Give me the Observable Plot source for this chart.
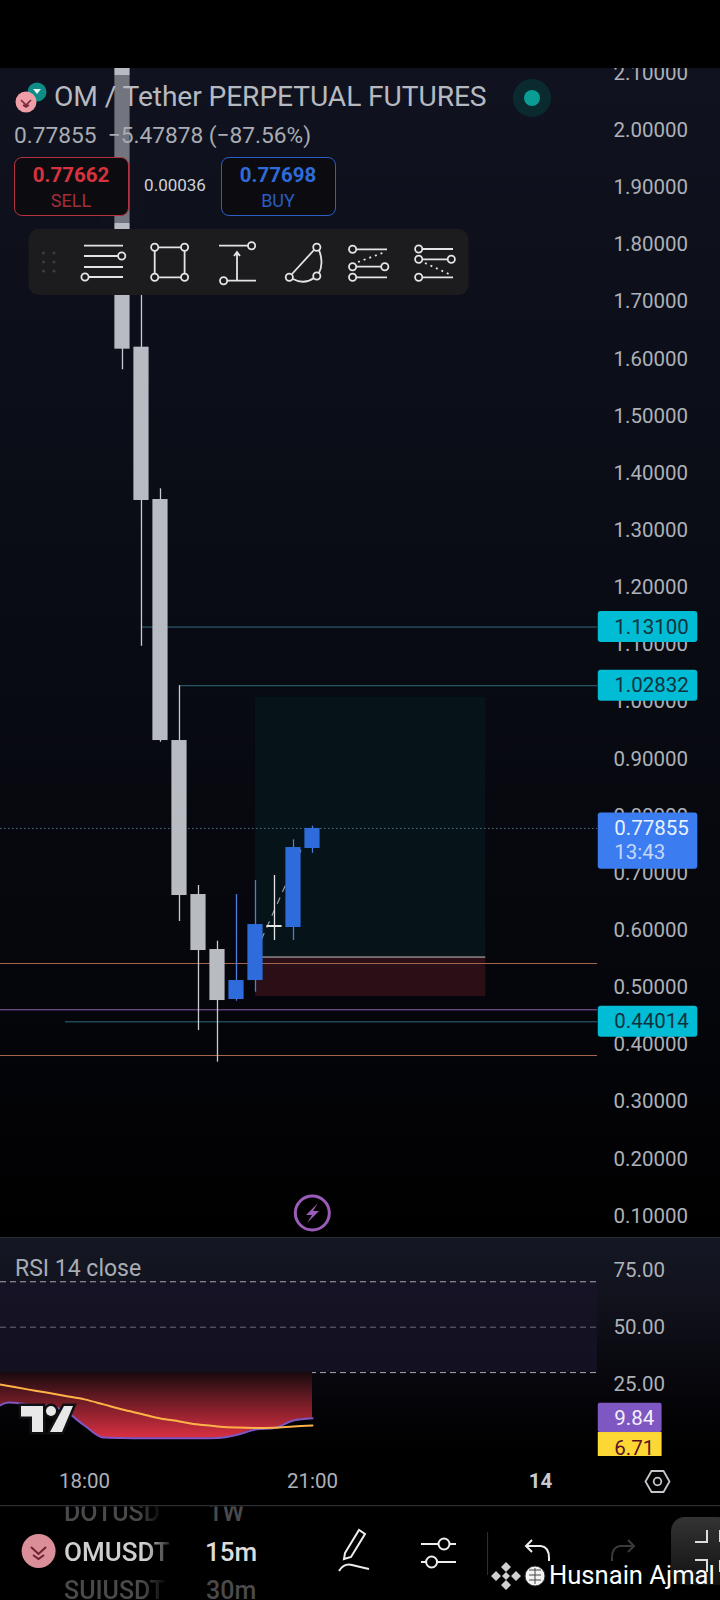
<!DOCTYPE html>
<html>
<head>
<meta charset="utf-8">
<script src="https://cdn.jsdelivr.net/npm/d3@7"></script>
<script src="https://cdn.jsdelivr.net/npm/@observablehq/plot@0.6"></script>
<style>
html,body{margin:0;padding:0;background:#000;}
#root{position:relative;width:720px;height:1600px;overflow:hidden;background:#000;font-family:Roboto,sans-serif;}
.abs{position:absolute;}
.t{position:absolute;white-space:nowrap;transform:translateY(-50%);line-height:1;}
.c{transform:translate(-50%,-50%);}
#pricePane{left:0;top:68px;width:720px;height:1169px;background:linear-gradient(#10131f 0%,#0c0f19 25%,#090b13 50%,#05060b 80%,#000 100%);}
#rsiPane{left:0;top:1237px;width:720px;height:269px;background:linear-gradient(#141824 0,#11121c 60px,#07070d 140px,#000 215px);border-top:1px solid #2a2d35;box-sizing:border-box;}
svg{display:block;}
.fade{-webkit-mask-image:linear-gradient(90deg,#000 78%,rgba(0,0,0,.15) 100%);mask-image:linear-gradient(90deg,#000 78%,rgba(0,0,0,.15) 100%);}
</style>
</head>
<body>
<div id="root">
  <div id="pricePane" class="abs"></div>
  <div id="rsiPane" class="abs"></div>
</div>
<script>
// ---- data ----
const candleHours = [18.5,18.75,19,19.25,19.5,19.75,20,20.25,20.5,20.75,21];
const opens  = [2.25,1.6208,1.3542,0.9324,0.6629,0.5667,0.4792,0.5124,0.6087,0.6052,0.7435];
const closes = [1.6173,1.3525,0.9324,0.6612,0.5649,0.4774,0.5124,0.6104,0.6052,0.7452,0.77855];
const highs  = [2.3,1.8075,1.3729,1.02832,0.6787,0.5812,0.663,0.6874,0.6962,0.7587,0.7825];
const lows   = [1.5812,1.0975,0.9295,0.6157,0.4249,0.3695,0.4762,0.492,0.5824,0.5824,0.735];
const priceTicks = [0.1,0.2,0.3,0.4,0.5,0.6,0.7,0.8,0.9,1.0,1.1,1.2,1.3,1.4,1.5,1.6,1.7,1.8,1.9,2.0,2.1];
const alertPrices = [1.131,1.02832,0.44014];
const alertStarts = [18.75,19.25,17.75];
const lastPrice = 0.77855;
const countdown = "13:43";
const orangeLevels = [0.5422,0.3812];
const purpleLevel = 0.4612;
const positionEntry = 0.5535, positionTarget = 1.0082, positionStop = 0.4843;
const positionStart = 20.25, positionEnd = 23.28;
const trendHours = [20.33,20.88];
const trendPrices = [0.585,0.75];
const rsiHours = [16.75,17,17.25,17.5,17.75,18,18.25,18.5,18.75,19,19.25,19.5,19.75,20,20.25,20.5,20.75,21];
const rsiValues = [12.0,16.8,16.0,15.5,12.9,6.7,1.4,1.2,1.1,1.1,1.1,1.1,1.2,2.5,4.9,5.6,8.9,9.84];
const rsiMA = [25.6,24.1,22.6,21.2,19.7,18.2,16.0,13.7,11.8,9.8,8.5,7.1,6.3,5.8,5.6,5.7,6.3,6.71];
const rsiTicks = [25,50,75];
const rsiLevels = [70,30];
const rsiMid = 50;
const timeTicks = [18,21];
const timeLabels = ["18:00","21:00"];
const dayTick = 24, dayLabel = "14";

// ---- shared scale ----
const xDomain = [16.895,24.75];
const paneW = 597, W = 720;
const axisColor = "#aeb1b8";
const upColor = "#2e6cdc", downColor = "#b9bbc3";
const candles = candleHours.map((h,i)=>({h,open:opens[i],close:closes[i],high:highs[i],low:lows[i]}));
const hw = 0.1;
const labelL = 24.76, labelR = 26.07;
const pad = 0.0271;

const price = Plot.plot({
  width:W,height:1169,marginTop:0,marginBottom:0,marginLeft:0,marginRight:W-paneW,
  style:{background:"transparent",fontFamily:"Roboto"},
  x:{domain:xDomain,range:[0,paneW],axis:null},
  y:{domain:[0.0627,2.1085],range:[1169,0]},
  color:{type:"identity"},
  marks:[
    Plot.axisY(priceTicks,{anchor:"right",tickSize:0,tickPadding:16,tickFormat:d3.format(".5f"),fontSize:20.5,color:axisColor,label:null}),
    Plot.rect([0],{x1:positionStart,x2:positionEnd,y1:positionEntry,y2:positionTarget,fill:"#061318"}),
    Plot.rect([0],{x1:positionStart,x2:positionEnd,y1:positionStop,y2:positionEntry,fill:"#2b0f17"}),
    Plot.ruleY([positionEntry],{x1:positionStart,x2:positionEnd,stroke:"#c4c4c4",strokeWidth:1}),
    Plot.ruleY(orangeLevels,{x1:xDomain[0],x2:xDomain[1],stroke:"#a4654c",strokeWidth:1}),
    Plot.ruleY([purpleLevel],{x1:xDomain[0],x2:xDomain[1],stroke:"#8a62ab",strokeWidth:1}),
    Plot.ruleY(alertPrices,{x1:(d,i)=>alertStarts[i],x2:xDomain[1],stroke:"#2f6b7c",strokeWidth:1}),
    Plot.ruleY([lastPrice],{x1:xDomain[0],x2:xDomain[1],stroke:"#55707f",strokeWidth:1,strokeDasharray:"1.5,2.5"}),
    Plot.line(trendHours.map((h,i)=>({h,p:trendPrices[i]})),{x:"h",y:"p",stroke:"#9a9da6",strokeWidth:1.2,strokeDasharray:"6,7"}),
    Plot.ruleX(candles,{x:"h",y1:"low",y2:"high",strokeWidth:1.3,stroke:d=>d.close>d.open?"#4a7ddc":(d.h===20.5?"#e6e6e6":"#c9cbd1")}),
    Plot.rect(candles,{x1:d=>d.h-hw,x2:d=>d.h+hw,y1:"open",y2:"close",fill:d=>d.close>d.open?upColor:(d.h===20.5?"#e6e6e6":downColor)}),
    Plot.rect(alertPrices,{x1:labelL,x2:labelR,y1:d=>d-pad,y2:d=>d+pad,fill:"#00bcd4",rx:3}),
    Plot.text(alertPrices,{x:labelL,y:d=>d,dx:16,textAnchor:"start",text:d=>d3.format(".5f")(d),fontSize:20.5,fill:"#10323c"}),
    Plot.rect([lastPrice],{x1:labelL,x2:labelR,y1:d=>d-0.0715,y2:d=>d+pad,fill:"#3b7cf0",rx:3}),
    Plot.text([lastPrice],{x:labelL,y:d=>d,dx:16,textAnchor:"start",text:d=>d3.format(".5f")(d),fontSize:20.5,fill:"#e8f1ff"}),
    Plot.text([countdown],{x:labelL,y:lastPrice,dx:16,dy:24,textAnchor:"start",text:d=>d,fontSize:20.5,fill:"#c4d7fb"})
  ]
});
price.style.position="absolute";price.style.left="0";price.style.top="68px";
document.getElementById("root").appendChild(price);

const rsiData = rsiHours.map((h,i)=>({h,rsi:rsiValues[i],ma:rsiMA[i]}));
const gradientDefs = () => {
  const d = d3.create("svg:defs");
  const g = d.append("linearGradient").attr("id","rsiFill").attr("x1",0).attr("x2",0).attr("y1",0).attr("y2",1);
  g.append("stop").attr("offset","0%").attr("stop-color","#180a0e");
  g.append("stop").attr("offset","45%").attr("stop-color","#701c26");
  g.append("stop").attr("offset","100%").attr("stop-color","#d92f41");
  return d.node();
};
const rsi = Plot.plot({
  width:W,height:269,marginTop:0,marginBottom:50,marginLeft:0,marginRight:W-paneW,
  style:{background:"transparent",fontFamily:"Roboto"},
  x:{domain:xDomain,range:[0,paneW],axis:null},
  y:{domain:[-6.96,89.5],range:[219,0]},
  marks:[
    gradientDefs,
    Plot.rect([0],{x1:xDomain[0],x2:xDomain[1],y1:rsiLevels[1],y2:rsiLevels[0],fill:"#181428",fillOpacity:0.72}),
    Plot.axisY(rsiTicks,{anchor:"right",tickSize:0,tickPadding:16,tickFormat:d3.format(".2f"),fontSize:20.5,color:axisColor,label:null}),
    Plot.ruleY(rsiLevels,{x1:xDomain[0],x2:xDomain[1],stroke:"#a8a8ae",strokeWidth:1,strokeDasharray:"6,4"}),
    Plot.ruleY([rsiMid],{x1:xDomain[0],x2:xDomain[1],stroke:"#6d6d74",strokeWidth:1,strokeDasharray:"6,4"}),
    Plot.areaY(rsiData,{x:"h",y1:rsiLevels[1],y2:"rsi",fill:"url(#rsiFill)",curve:"monotone-x"}),
    Plot.line(rsiData,{x:"h",y:"rsi",stroke:"#7e57c2",strokeWidth:2,curve:"monotone-x"}),
    Plot.line(rsiData,{x:"h",y:"ma",stroke:"#ffb347",strokeWidth:2,curve:"monotone-x"}),
    Plot.rect([0],{x1:labelL,x2:25.6,y1:3.6,y2:16.5,fill:"#7e57c2",rx:2}),
    Plot.rect([0],{x1:labelL,x2:25.6,y1:-6.96,y2:3.6,fill:"#fdd835"}),
    Plot.text([rsiValues[rsiValues.length-1]],{x:labelL,y:d=>d,dx:16,textAnchor:"start",text:d=>d3.format(".2f")(d),fontSize:20.5,fill:"#f4f0fa"}),
    Plot.text([rsiMA[rsiMA.length-1]],{x:labelL,y:d=>d,dx:16,dy:23,textAnchor:"start",text:d=>d3.format(".2f")(d),fontSize:20.5,fill:"#5a1020"}),
    Plot.text(timeTicks,{x:d=>d,y:-6.96,dy:25,text:(d,i)=>timeLabels[i],fontSize:20.5,fill:axisColor}),
    Plot.text([dayTick],{x:d=>d,y:-6.96,dy:25,text:()=>dayLabel,fontSize:20.5,fill:"#c8cad0",fontWeight:700})
  ]
});
rsi.style.position="absolute";rsi.style.left="0";rsi.style.top="1237px";
document.getElementById("root").appendChild(rsi);

// ---- app chrome overlay ----
const root = document.getElementById("root");
const chrome = document.createElement("div");
chrome.innerHTML = `
<div class="abs" style="left:100px;top:75px;width:45px;height:148px;background:rgba(16,19,31,.42)"></div>
<svg class="abs" style="left:0;top:0" width="720" height="1600" fill="none">
  <circle cx="37" cy="92" r="9.5" fill="#0e8c86"/><path d="M33 89h8l-4 5z" fill="#e6f4f2"/>
  <circle cx="26" cy="102" r="10.5" fill="#ee9ea7"/><path d="M21 100l5 5 5-5M23 105l3 2 3-2" stroke="#7a2a3a" stroke-width="1.6"/>
  <circle cx="532" cy="98" r="19" fill="#0b2a30"/><circle cx="532" cy="98" r="8" fill="#0a9d93"/>
  <rect x="28.5" y="229" width="440" height="66" rx="10" fill="#1c1c1e"/>
  <g fill="#3c3c40"><circle cx="43.5" cy="253" r="1.6"/><circle cx="54" cy="253" r="1.6"/><circle cx="43.5" cy="262" r="1.6"/><circle cx="54" cy="262" r="1.6"/><circle cx="43.5" cy="271" r="1.6"/><circle cx="54" cy="271" r="1.6"/></g>
  <g stroke="#e4e4e6" stroke-width="1.8" fill="none">
    <path d="M84 245.7h39M84 256h34M84 267h39M89 277h34"/><circle cx="121.7" cy="256" r="3.6"/><circle cx="85" cy="277" r="3.6"/>
    <path d="M158 247.3h23M158 277.3h23M154.7 251v23M184.6 251v23"/><circle cx="154.7" cy="247.3" r="3.6"/><circle cx="184.6" cy="247.3" r="3.6"/><circle cx="154.7" cy="277.3" r="3.6"/><circle cx="184.6" cy="277.3" r="3.6"/>
    <path d="M219 245.7h29M227 280.7h29M237 252v28M234 256l3-4 3 4"/><circle cx="251.6" cy="245.7" r="3.6"/><circle cx="223.6" cy="280.7" r="3.6"/>
    <path d="M292 274l22-24M319 250q5 13 0 23M293 279q11 6 21-1"/><circle cx="316.8" cy="247.3" r="3.6"/><circle cx="289.3" cy="277.3" r="3.6"/><circle cx="316.8" cy="276" r="3.6"/>
    <path d="M356 249.3h31M356 266.7h25M356 277.3h31"/><circle cx="352.6" cy="249.3" r="3.6"/><circle cx="352.6" cy="266.7" r="3.6"/><circle cx="352.6" cy="277.3" r="3.6"/><circle cx="384.8" cy="266.7" r="3.6"/>
    <path d="M358 262l27-10" stroke-dasharray="2,4"/>
    <path d="M422 249h31M422 259.3h26M422 277.3h31"/><circle cx="418.7" cy="249" r="3.6"/><circle cx="418.7" cy="259.3" r="3.6"/><circle cx="451.3" cy="259.3" r="3.6"/><circle cx="418.7" cy="277.3" r="3.6"/>
    <path d="M425 263l26 12" stroke-dasharray="2,4"/>
  </g>
  <circle cx="312.3" cy="1213" r="17" fill="#000" stroke="#9a5cb8" stroke-width="3"/>
  <path d="M318 1203l-12 12h6l-5 8 12-12h-6z" fill="#9a5cb8"/>
  <g fill="#e8e8e8" stroke="#101012" stroke-width="5" paint-order="stroke">
    <path d="M21 1406h22v26h-11v-15.5h-11z"/><circle cx="51" cy="1411" r="5"/><path d="M64 1406h9l-11 26h-12z"/>
  </g>
  <path d="M645.5 1481.5l6-10.5h12l6 10.5-6 10.500h-12z" stroke="#c4c6cc" stroke-width="1.8"/>
  <circle cx="657.5" cy="1481.5" r="3.8" stroke="#c4c6cc" stroke-width="1.8"/>
  <line x1="0" x2="720" y1="1505.6" y2="1505.6" stroke="#2a2c30" stroke-width="1.2"/>
  <ellipse cx="38.6" cy="1551" rx="17" ry="17" fill="#d98e98"/><path d="M31 1547l7.5 7 7.5-7M33 1555l5.500 4 5.500-4" stroke="#6d2231" stroke-width="2"/>
  <g stroke="#ededed" stroke-width="2" fill="none">
    <path d="M345 1553l14-23 6 4-14 23-7 2zM339 1571q5-8 13-6t17 4"/>
    <path d="M421 1544h17M450 1544h6M421 1562h5M437 1562h19"/><circle cx="444" cy="1544" r="5.500"/><circle cx="431.600" cy="1562" r="5.500"/>
    <path d="M532 1552l-6-6 6-6M526 1546h15q8 1 8 12v3"/>
  </g>
  <line x1="487.600" x2="487.600" y1="1532" y2="1575" stroke="#333"/>
  <path d="M628 1552l6-6-6-6M634 1546h-14q-8 1-8 12v3" stroke="#3a3a3a" stroke-width="2"/>
  <defs><linearGradient id="side" x1="0" x2="0" y1="0" y2="1"><stop offset="0" stop-color="#333"/><stop offset="1" stop-color="#111"/></linearGradient></defs>
  <rect x="671" y="1517" width="60" height="68" rx="14" fill="url(#side)"/>
  <path d="M707 1530v12h-12M720 1530v12M695 1560h12v12M720 1560v12" stroke="#ddd" stroke-width="2"/>
  <g fill="#cfcfcf"><path d="M506 1562l5 5-5 5-5-5zM496 1571l5 5-5 5-5-5zM516 1571l5 5-5 5-5-5zM506 1580l5 5-5 5-5-5z"/><path d="M506 1572l4 4-4 4-4-4z"/></g>
  <circle cx="535" cy="1576" r="10" fill="#f2f2f2" stroke="#333"/><path d="M529 1570h12M529 1575h12M529 1580h12M535 1568v16" stroke="#444"/>
</svg>
<div class="t" style="left:54px;top:97px;font-size:28.2px;color:#b6b9c0;letter-spacing:-.1px">OM / Tether PERPETUAL FUTURES</div>
<div class="t" style="left:14px;top:136px;font-size:22.7px;color:#a9acb3">0.77855&nbsp; −5.47878 (−87.56%)</div>
<div class="abs" style="left:14px;top:157px;width:115px;height:59px;box-sizing:border-box;border:1px solid #b4323f;border-radius:8px;background:#0c0c10"></div>
<div class="t c" style="left:71px;top:175px;font-size:20.5px;font-weight:700;color:#d6323f">0.77662</div>
<div class="t c" style="left:71px;top:201px;font-size:18px;color:#a52c3a">SELL</div>
<div class="t c" style="left:175px;top:185px;font-size:17px;color:#d0d2d6">0.00036</div>
<div class="abs" style="left:221px;top:157px;width:115px;height:59px;box-sizing:border-box;border:1px solid #2a5fc8;border-radius:8px;background:#0c0c10"></div>
<div class="t c" style="left:278px;top:175px;font-size:20.5px;font-weight:700;color:#2f6bd8">0.77698</div>
<div class="t c" style="left:278px;top:201px;font-size:18px;color:#2a5cc0">BUY</div>
<div class="t" style="left:15px;top:1268px;font-size:23px;color:#a9acb3">RSI 14 close</div>
<div class="t fade" style="left:64px;top:1512px;font-size:25px;font-weight:500;color:#4a4a4c;clip-path:inset(7px 0 0 0)">DOTUSD</div>
<div class="t" style="left:208px;top:1512px;font-size:25px;font-weight:500;color:#4a4a4c;clip-path:inset(7px 0 0 0)">1W</div>
<div class="t fade" style="left:64px;top:1552px;font-size:26px;font-weight:500;color:#cfcfcf">OMUSDT</div>
<div class="t" style="left:205px;top:1552px;font-size:26px;font-weight:500;color:#dcdcdc">15m</div>
<div class="t fade" style="left:64px;top:1590px;font-size:25px;font-weight:500;color:#4a4a4c">SUIUSDT</div>
<div class="t" style="left:206px;top:1590px;font-size:25px;font-weight:500;color:#4a4a4c">30m</div>
<div class="t" style="left:549px;top:1576px;font-size:25.6px;color:#ffffff">Husnain Ajmal</div>
`;
root.appendChild(chrome);
</script>
</body>
</html>
